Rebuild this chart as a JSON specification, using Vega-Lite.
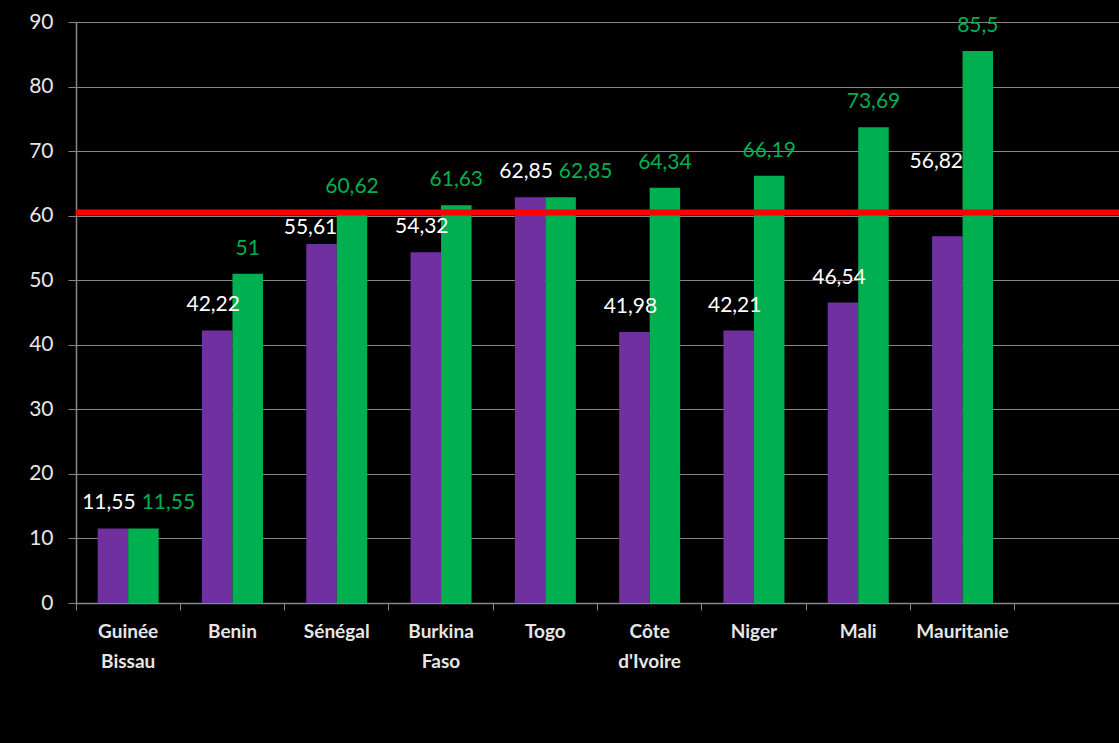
{
  "$schema": "https://vega.github.io/schema/vega-lite/v6.json",
  "width": 1043,
  "height": 581,
  "autosize": {"type": "none"},
  "padding": {"left": 76, "top": 22, "right": 0, "bottom": 140},
  "background": "#000000",
  "config": {
    "view": {"stroke": null},
    "font": "Lato",
    "text": {"font": "Lato", "fontSize": 21, "baseline": "middle", "align": "center"}
  },
  "datasets": {
    "bars": [
      {"pays": "Guinée Bissau", "series": "Série 1", "value": 11.55},
      {"pays": "Guinée Bissau", "series": "Série 2", "value": 11.55},
      {"pays": "Benin", "series": "Série 1", "value": 42.22},
      {"pays": "Benin", "series": "Série 2", "value": 51},
      {"pays": "Sénégal", "series": "Série 1", "value": 55.61},
      {"pays": "Sénégal", "series": "Série 2", "value": 60.62},
      {"pays": "Burkina Faso", "series": "Série 1", "value": 54.32},
      {"pays": "Burkina Faso", "series": "Série 2", "value": 61.63},
      {"pays": "Togo", "series": "Série 1", "value": 62.85},
      {"pays": "Togo", "series": "Série 2", "value": 62.85},
      {"pays": "Côte d'Ivoire", "series": "Série 1", "value": 41.98},
      {"pays": "Côte d'Ivoire", "series": "Série 2", "value": 64.34},
      {"pays": "Niger", "series": "Série 1", "value": 42.21},
      {"pays": "Niger", "series": "Série 2", "value": 66.19},
      {"pays": "Mali", "series": "Série 1", "value": 46.54},
      {"pays": "Mali", "series": "Série 2", "value": 73.69},
      {"pays": "Mauritanie", "series": "Série 1", "value": 56.82},
      {"pays": "Mauritanie", "series": "Série 2", "value": 85.5}
    ],
    "seuil": [{"seuil": 60.5}]
  },
  "layer": [
    {
      "data": {"name": "bars"},
      "mark": {"type": "bar"},
      "encoding": {
        "x": {
          "field": "pays",
          "type": "nominal",
          "scale": {
            "domain": ["Guinée Bissau", "Benin", "Sénégal", "Burkina Faso", "Togo", "Côte d'Ivoire", "Niger", "Mali", "Mauritanie", "_vide"],
            "paddingInner": 0,
            "paddingOuter": 0
          },
          "axis": {
            "title": null,
            "labelAngle": 0,
            "labelExpr": "datum.label === '_vide' ? '' : split(datum.label, ' ')",
            "labelFont": "Lato",
            "labelFontWeight": "bold",
            "labelFontSize": 19,
            "labelColor": "#e6e6e6",
            "labelLineHeight": 30,
            "labelPadding": 12,
            "bandPosition": 0,
            "ticks": true,
            "tickColor": "#868686",
            "tickSize": 7,
            "domainColor": "#868686",
            "domainWidth": 1.5,
            "grid": false
          }
        },
        "xOffset": {"field": "series", "type": "nominal", "scale": {"domain": ["Série 1", "Série 2"], "paddingInner": 0, "paddingOuter": 0.71}},
        "y": {
          "field": "value",
          "type": "quantitative",
          "scale": {"domain": [0, 90], "nice": false},
          "axis": {
            "title": null,
            "values": [0, 10, 20, 30, 40, 50, 60, 70, 80, 90],
            "labelFont": "Lato",
            "labelFontSize": 21,
            "labelColor": "#e6e6e6",
            "labelPadding": 15,
            "tickSize": 8,
            "tickColor": "#868686",
            "domainColor": "#868686",
            "domainWidth": 1.5,
            "gridColor": "#868686",
            "gridWidth": 1.2
          }
        },
        "color": {
          "field": "series",
          "type": "nominal",
          "scale": {"domain": ["Série 1", "Série 2"], "range": ["#7030A0", "#00B050"]},
          "legend": null
        }
      }
    },
    {
      "data": {"name": "seuil"},
      "mark": {"type": "rule", "color": "#ff0000", "strokeWidth": 6},
      "encoding": {
        "y": {"field": "seuil", "type": "quantitative"}
      }
    },
    {
      "data": {"name": "bars"},
      "transform": [
        {"filter": "datum.series === 'Série 1' && datum.pays !== 'Sénégal' && datum.pays !== 'Mauritanie'"},
        {"calculate": "replace(toString(datum.value), '.', ',')", "as": "etiquette"}
      ],
      "mark": {"type": "text", "dy": -25, "dx": -4, "color": "#ffffff"},
      "encoding": {
        "x": {"field": "pays", "type": "nominal"},
        "xOffset": {"field": "series", "type": "nominal"},
        "y": {"field": "value", "type": "quantitative"},
        "text": {"field": "etiquette"}
      }
    },
    {
      "data": {"name": "bars"},
      "transform": [
        {"filter": "datum.series === 'Série 1' && datum.pays === 'Sénégal'"},
        {"calculate": "replace(toString(datum.value), '.', ',')", "as": "etiquette"}
      ],
      "mark": {"type": "text", "dy": -16, "dx": -11, "color": "#ffffff"},
      "encoding": {
        "x": {"field": "pays", "type": "nominal"},
        "xOffset": {"field": "series", "type": "nominal"},
        "y": {"field": "value", "type": "quantitative"},
        "text": {"field": "etiquette"}
      }
    },
    {
      "data": {"name": "bars"},
      "transform": [
        {"filter": "datum.series === 'Série 1' && datum.pays === 'Mauritanie'"},
        {"calculate": "replace(toString(datum.value), '.', ',')", "as": "etiquette"}
      ],
      "mark": {"type": "text", "dy": -74, "dx": -11, "color": "#ffffff"},
      "encoding": {
        "x": {"field": "pays", "type": "nominal"},
        "xOffset": {"field": "series", "type": "nominal"},
        "y": {"field": "value", "type": "quantitative"},
        "text": {"field": "etiquette"}
      }
    },
    {
      "data": {"name": "bars"},
      "transform": [
        {"joinaggregate": [{"op": "min", "field": "value", "as": "minv"}], "groupby": ["pays"]},
        {"filter": "datum.series === 'Série 2' && datum.value - datum.minv >= 1"},
        {"calculate": "replace(toString(datum.value), '.', ',')", "as": "etiquette"}
      ],
      "mark": {"type": "text", "dy": -25, "color": "#00B050"},
      "encoding": {
        "x": {"field": "pays", "type": "nominal"},
        "xOffset": {"field": "series", "type": "nominal"},
        "y": {"field": "value", "type": "quantitative"},
        "text": {"field": "etiquette"}
      }
    },
    {
      "data": {"name": "bars"},
      "transform": [
        {"joinaggregate": [{"op": "min", "field": "value", "as": "minv"}], "groupby": ["pays"]},
        {"filter": "datum.series === 'Série 2' && datum.value - datum.minv < 1"},
        {"calculate": "replace(toString(datum.value), '.', ',')", "as": "etiquette"}
      ],
      "mark": {"type": "text", "dy": -25, "dx": 25, "color": "#00B050"},
      "encoding": {
        "x": {"field": "pays", "type": "nominal"},
        "xOffset": {"field": "series", "type": "nominal"},
        "y": {"field": "value", "type": "quantitative"},
        "text": {"field": "etiquette"}
      }
    }
  ]
}
